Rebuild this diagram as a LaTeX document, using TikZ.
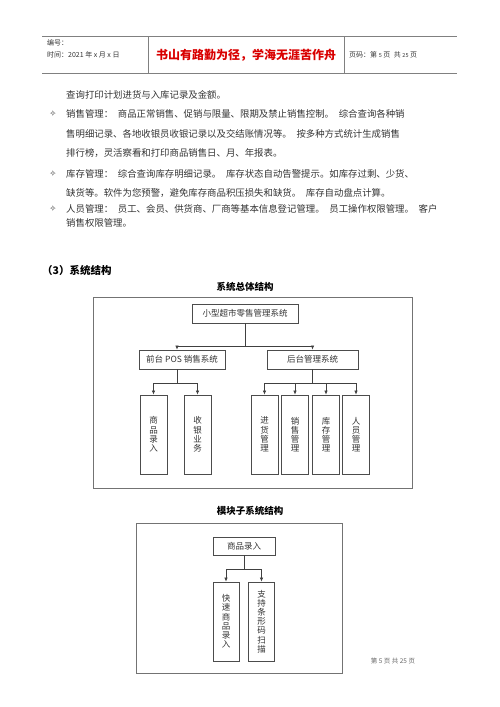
\documentclass[tikz,border=0pt]{standalone}
\usepackage{fontspec}
\setmainfont{Noto Sans CJK SC}
\newfontfamily\dejavu{DejaVu Sans}
\usetikzlibrary{arrows.meta}
\begin{document}
\begin{tikzpicture}[
                x=1pt, y=-1pt,
                every node/.style={inner sep=0pt, text=black!80},
                line/.style={draw=black!75, line width=0.6pt},
                arr/.style={line, -{Latex[length=4pt,width=3.6pt]}},
                frame/.style={draw=black!55, line width=1pt},
                hbox/.style={line, draw=black!70, line width=0.9pt, minimum height=19pt, font=\fontsize{8.5}{9}\selectfont},
                vbox/.style={line, draw=black!70, line width=0.9pt, minimum width=27pt, minimum height=79pt, align=center, font=\fontsize{8.5}{9.2}\selectfont},
                body/.style={anchor=west, font=\fontsize{9.4}{10}\selectfont},
                bullet/.style={anchor=center, font=\dejavu\fontsize{8}{8}\selectfont},
                title/.style={font=\bfseries\fontsize{9.5}{10}\selectfont, text=black}
            ]
            \useasboundingbox (0,0) rectangle (500,707);

            % header
            \draw[black!50, line width=0.7pt] (42,36) -- (457,36) (42,73) -- (457,73)
                (148,36) -- (148,73) (344,36) -- (344,73);
            \node[anchor=west, font=\fontsize{7}{8}\selectfont] (no) at (47,43) {编号：};
            \node[anchor=west, font=\fontsize{7}{8}\selectfont] (date) at (47,55) {时间：2021 年 x 月 x 日};
            \node[font=\bfseries\fontsize{12}{13}\selectfont, text=red!85!black] (motto) at (246,55) {书山有路勤为径，学海无涯苦作舟};
            \node[anchor=west, font=\fontsize{7}{8}\selectfont] (page) at (349,55) {页码：第 {\fontsize{5.5}{6}\selectfont 5} 页\enspace 共 {\fontsize{5.5}{6}\selectfont 25} 页};

            % text
            \node[body] (l1) at (66,95) {查询打印计划进货与入库记录及金额。};
            \node[bullet] (b1) at (53,114) {✧};
            \node[body] (l2) at (66,114) {销售管理：\enspace 商品正常销售、促销与限量、限期及禁止销售控制。\enspace 综合查询各种销};
            \node[body] (l3) at (66,134) {售明细记录、各地收银员收银记录以及交结账情况等。\enspace 按多种方式统计生成销售};
            \node[body] (l4) at (66,153) {排行榜，灵活察看和打印商品销售日、月、年报表。};
            \node[bullet] (b2) at (53,174) {✧};
            \node[body] (l5) at (66,174) {库存管理：\enspace 综合查询库存明细记录。\enspace 库存状态自动告警提示。如库存过剩、少货、};
            \node[body] (l6) at (66,193) {缺货等。软件为您预警，避免库存商品积压损失和缺货。\enspace 库存自动盘点计算。};
            \node[bullet] (b3) at (53,209) {✧};
            \node[body] (l7) at (66,209) {人员管理：\enspace 员工、会员、供货商、厂商等基本信息登记管理。\enspace 员工操作权限管理。\enspace 客户};
            \node[body] (l8) at (66,223) {销售权限管理。};

            \node[anchor=west, font=\bfseries\fontsize{10.5}{11}\selectfont, text=black] (sec) at (42,270) {（3）系统结构};

            % overall structure
            \node[title] (t1) at (245,287) {系统总体结构};
            \draw[frame] (93,297) rectangle (412,488);
            \node[hbox, minimum width=106pt] (sys) at (245,313.5) {小型超市零售管理系统};
            \node[hbox, minimum width=86pt] (front) at (182,359.5) {前台 POS 销售系统};
            \node[hbox, minimum width=91pt] (back) at (312.5,359.5) {后台管理系统};
            \node[vbox] (input) at (153.5,434.5) {商\\品\\录\\入};
            \node[vbox] (cash) at (197.5,434.5) {收\\银\\业\\务};
            \node[vbox] (buy) at (264.5,434.5) {进\\货\\管\\理};
            \node[vbox] (sale) at (295,434.5) {销\\售\\管\\理};
            \node[vbox] (store) at (326,434.5) {库\\存\\管\\理};
            \node[vbox] (staff) at (356,434.5) {人\\员\\管\\理};

            \coordinate (fj) at (177,383);
            \coordinate (bj) at (312.5,383);
            \draw[arr] (sys.south) -- ++(0,22.5) -| (fj |- front.north);
            \draw[arr] (sys.south) -- ++(0,22.5) -| (back.north);
            \draw[line] (fj |- front.south) -- (fj);
            \draw[arr] (fj) -| (input.north);
            \draw[arr] (fj) -| (cash.north);
            \draw[line] (back.south) -- (bj);
            \foreach \n in {buy,sale,store,staff}
                \draw[arr] (bj) -| (\n.north);

            % module structure
            \node[title] (t2) at (250,511) {模块子系统结构};
            \draw[frame] (136,523) rectangle (342,673);
            \node[hbox, minimum width=62pt, minimum height=18pt] (mod) at (244,546) {商品录入};
            \node[vbox, minimum width=26pt] (fast) at (226,621.5) {快\\速\\商\\品\\录\\入};
            \node[vbox, minimum width=26pt] (scan) at (261.5,621.5) {支\\持\\条\\形\\码\\扫\\描};
            \coordinate (mj) at (244,569);
            \draw[line] (mod.south) -- (mj);
            \draw[arr] (mj) -| (fast.north);
            \draw[arr] (mj) -| (scan.north);

            % footer
            \node[font=\fontsize{6.5}{7}\selectfont, text=black!60] (foot) at (393,661) {第 5 页 共 25 页};
        \end{tikzpicture}
\end{document}
